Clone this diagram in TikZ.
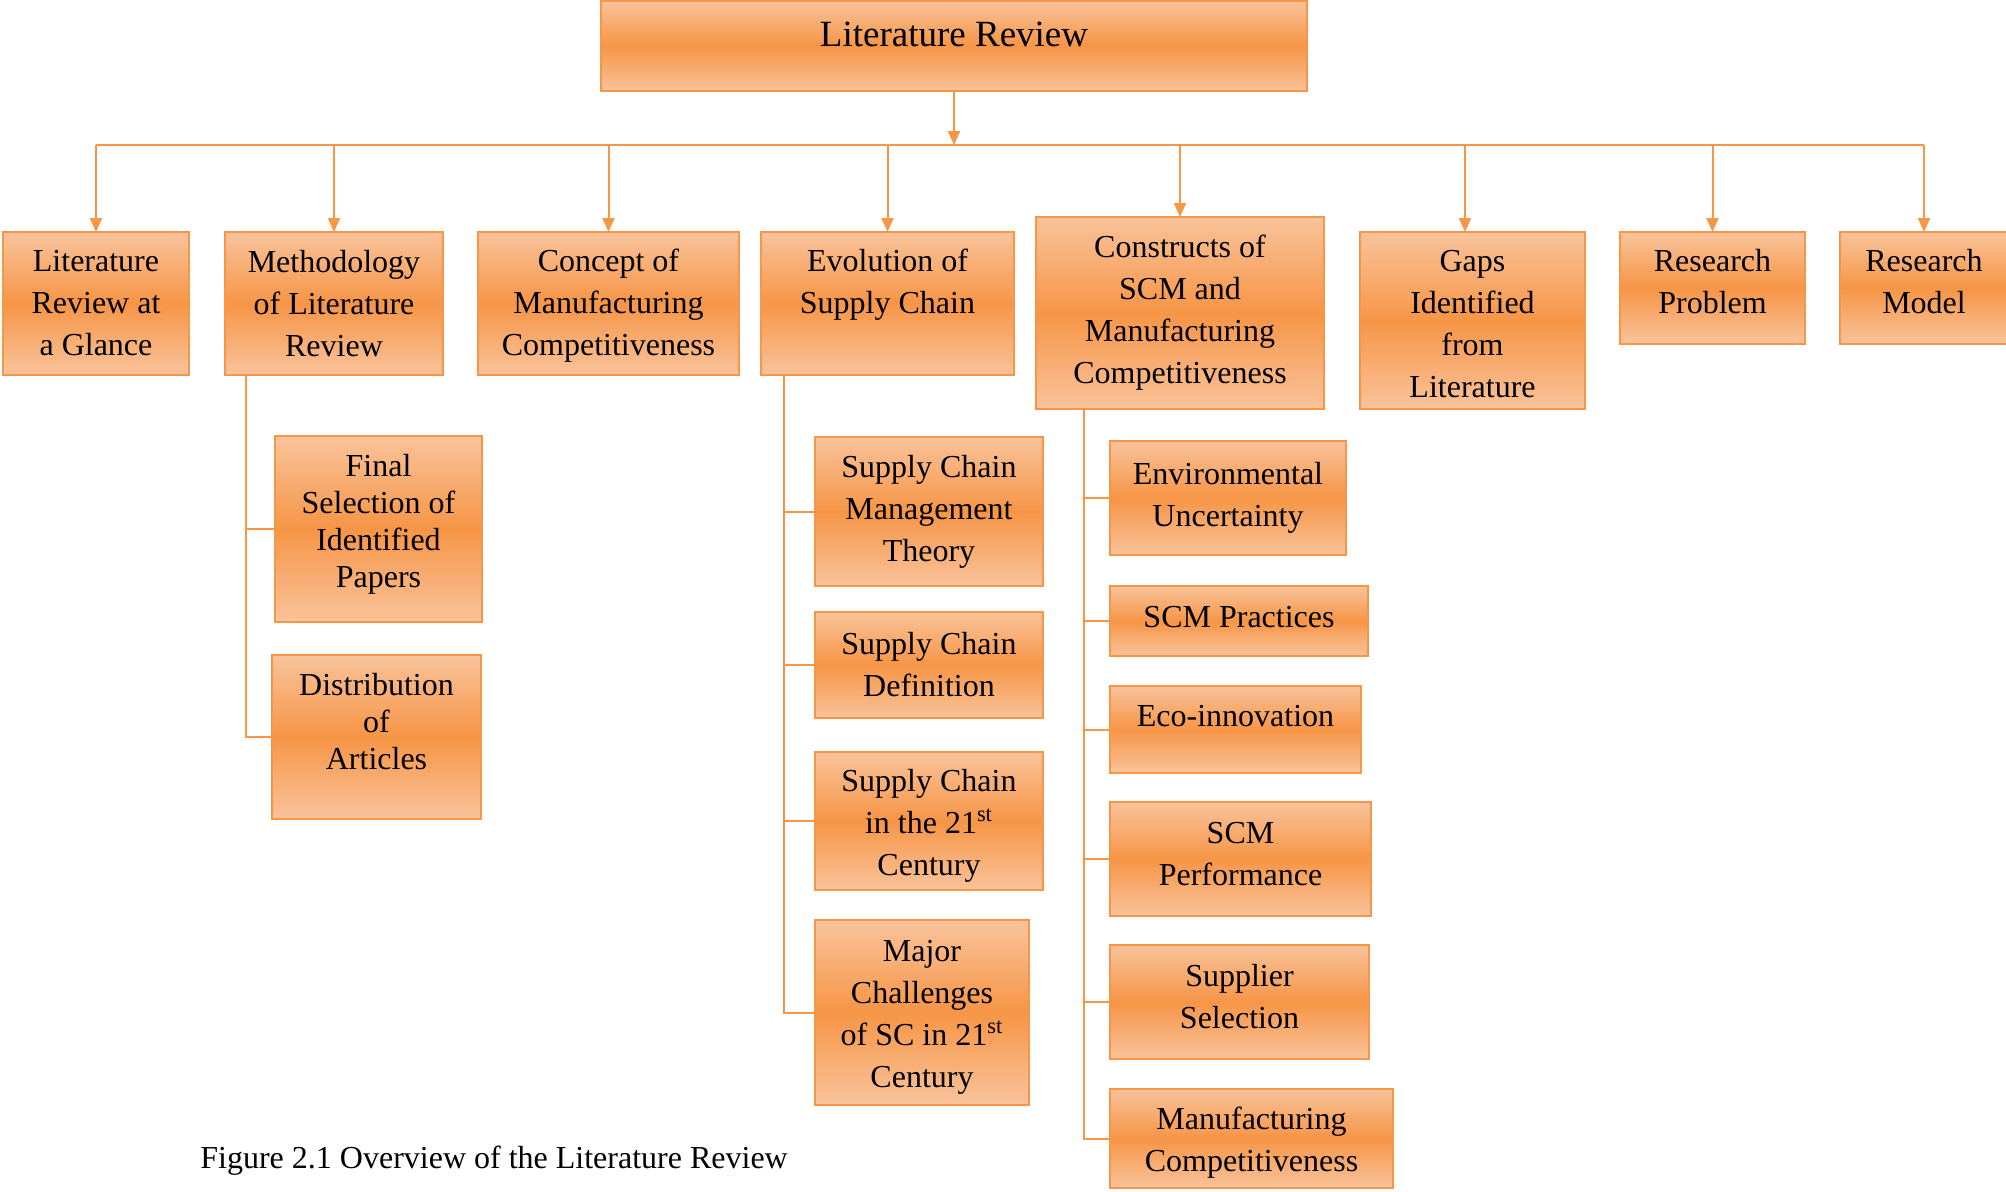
\documentclass[tikz,border=0pt]{standalone}
\usepackage{fontspec}
\setmainfont{Liberation Serif}
\usetikzlibrary{arrows.meta}
\definecolor{orangeline}{HTML}{F79646}
\definecolor{boxlight}{HTML}{F9C39B}
\definecolor{boxdark}{HTML}{F69546}

% \boxnode[text options]{name}{cx,cy}{width}{height}{text drop}{text}
% draws a shaded box and sets its text, dropped by the given amount
\newcommand\boxnode[7][]{%
  \node[box, sz={#4}{#5}] (#2) at (#3) {};
  \node[boxtext, #1] (#2-txt) at ([yshift=-#6*0.5pt]#2.center) {#7};}

\begin{document}
\begin{tikzpicture}[x=0.5pt,y=-0.5pt,
  box/.style={draw=orangeline, line width=1pt, top color=boxlight,
    bottom color=boxlight, middle color=boxdark,
    inner sep=0pt, outer sep=0pt},
  boxtext/.style={align=center, inner sep=0pt,
    font=\fontsize{16}{21}\selectfont},
  tight/.style={font=\fontsize{16}{18.5}\selectfont},
  sz/.style 2 args={minimum width=#1*0.5pt, minimum height=#2*0.5pt},
  link/.style={draw=orangeline, line width=1pt},
  arr/.style={link, -{Triangle[width=6pt,length=7pt]}}]

\useasboundingbox (0,0) rectangle (2006,1191);

% root
\boxnode[font=\fontsize{18.5}{22}\selectfont]{top}{954,46}{706}{90}{-11.5}{Literature Review}

% first level
\boxnode{lrg}{96,303.5}{186}{143}{0}{Literature\\Review at\\a Glance}
\boxnode{meth}{334,303.5}{218}{143}{0}{Methodology\\of Literature\\Review}
\boxnode{conc}{608.5,303.5}{261}{143}{2.5}{Concept of\\Manufacturing\\Competitiveness}
\boxnode{evo}{887.5,303.5}{253}{143}{-18.5}{Evolution of\\Supply Chain}
\boxnode{cons}{1180,313}{288}{192}{0}{Constructs of\\SCM and\\Manufacturing\\Competitiveness}
\boxnode{gaps}{1472.5,320.5}{225}{177}{4}{Gaps\\Identified\\from\\Literature}
\boxnode{rp}{1712.5,288}{185}{112}{-6}{Research\\Problem}
\boxnode{rm}{1924,288}{168}{112}{-6}{Research\\Model}

% methodology branch
\boxnode[tight]{fs}{378.5,529}{207}{186}{-4.5}{Final\\Selection of\\Identified\\Papers}
\boxnode[tight]{da}{376.5,737}{209}{164}{-15}{Distribution\\of\\Articles}

% evolution branch
\boxnode{sct}{929,511.5}{228}{149}{0}{Supply Chain\\Management\\Theory}
\boxnode{scd}{929,665}{228}{106}{0}{Supply Chain\\Definition}
\boxnode{sc21}{929,821}{228}{138}{5}{Supply Chain\\in the 21\textsuperscript{st}\\Century}
\boxnode{mc}{922,1012.5}{214}{185}{5}{Major\\Challenges\\of SC in 21\textsuperscript{st}\\Century}

% constructs branch
\boxnode{env}{1228,498}{236}{114}{0}{Environmental\\Uncertainty}
\boxnode{prac}{1239,621}{258}{70}{-4}{SCM Practices}
\boxnode{eco}{1235.5,729.5}{251}{87}{-13}{Eco-innovation}
\boxnode{perf}{1240.5,859}{261}{114}{-5}{SCM\\Performance}
\boxnode{sup}{1239.5,1002}{259}{114}{-5}{Supplier\\Selection}
\boxnode{mfg}{1251.5,1138.5}{283}{99}{4.5}{Manufacturing\\Competitiveness}

% caption
\node[anchor=west, inner sep=0pt, font=\fontsize{16}{19}\selectfont] (cap) at (200,1161)
  {Figure 2.1 Overview of the Literature Review};

% distribution bus
\coordinate (busL) at (96,145);
\coordinate (busR) at (1924,145);
\draw[arr] (top.south) -- (top.south |- busL);
\draw[link] (busL) -- (busR);
\foreach \n in {lrg,meth,conc,evo,cons,rp,rm}
  \draw[arr] (\n.north |- busL) -- (\n.north);
% the arrow into the gaps box sits a little left of its centre
\draw[arr] ([xshift=-3.75pt]gaps.north |- busL) -- ([xshift=-3.75pt]gaps.north);

% trunks with side branches
\coordinate (mt) at (246,375);
\foreach \n in {fs,da} \draw[link] (mt) |- (\n.west);
\coordinate (et) at (784,375);
\foreach \n in {sct,scd,sc21,mc} \draw[link] (et) |- (\n.west);
\coordinate (ct) at (1084,409);
\foreach \n in {env,prac,eco,perf,sup,mfg} \draw[link] (ct) |- (\n.west);

\end{tikzpicture}
\end{document}
